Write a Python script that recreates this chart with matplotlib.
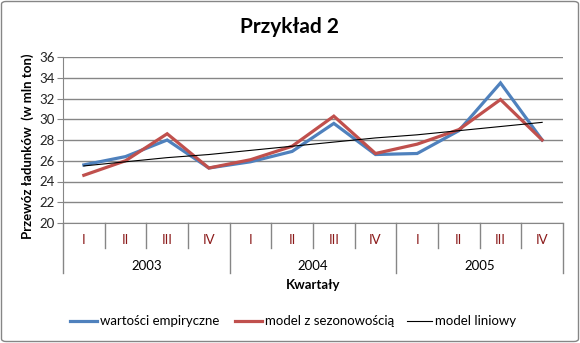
import numpy as np
import matplotlib.pyplot as plt
from matplotlib.lines import Line2D
from matplotlib.patches import FancyBboxPatch

plt.rcParams['font.family'] = ['Lato', 'DejaVu Sans']

# dane kwartalne 2003-2005
kwartaly = ['I', 'II', 'III', 'IV'] * 3
lata = ['2003', '2004', '2005']
empiryczne = [25.6, 26.4, 28.0, 25.3, 25.9, 26.9, 29.6, 26.6, 26.7, 28.9, 33.5, 28.0]
sezonowy = [24.6, 26.0, 28.6, 25.3, 26.1, 27.4, 30.3, 26.7, 27.6, 29.0, 31.9, 28.0]
liniowy = [25.5, 25.9, 26.3, 26.6, 27.0, 27.4, 27.8, 28.2, 28.5, 28.9, 29.3, 29.7]

NIEBIESKI = '#4F81BD'
CZERWONY = '#C0504D'
SZARY = '#868686'

W, H = 580, 343
fig = plt.figure(figsize=(W / 100, H / 100), dpi=100)

# ramka wykresu
fig.add_artist(FancyBboxPatch((1.5 / W, 1.5 / H), (W - 3) / W, (H - 3) / H,
                              boxstyle='round,pad=0,rounding_size=0.008',
                              transform=fig.transFigure, fill=False,
                              edgecolor=SZARY, linewidth=1.0))

ax = fig.add_axes([63 / W, (H - 223) / H, 500 / W, 166 / H])
x = np.arange(len(empiryczne))
ax.plot(x, empiryczne, color=NIEBIESKI, lw=2.3, solid_joinstyle='miter', zorder=3)
ax.plot(x, sezonowy, color=CZERWONY, lw=2.3, solid_joinstyle='miter', zorder=4)
ax.plot(x, liniowy, color='black', lw=0.8, zorder=5)

ax.set_xlim(-0.5, len(x) - 0.5)
ax.set_ylim(20, 36)
ax.set_yticks(np.arange(20, 37, 2))
ax.yaxis.grid(True, color=SZARY, lw=1.0)
ax.set_axisbelow(True)
ax.set_xticks([])
for s in ['top', 'right']:
    ax.spines[s].set_visible(False)
ax.spines['left'].set_color(SZARY)
ax.spines['bottom'].set_color(SZARY)
ax.tick_params(axis='y', length=4, color=SZARY, labelsize=9.5, pad=2, labelcolor='#222222')

# oś kategorii: kwartały i lata
tr = ax.get_xaxis_transform()
q_dol = -25 / 166
r_dol = -50 / 166
for k in range(len(x) + 1):
    dol = r_dol if k % 4 == 0 else q_dol
    ax.add_line(Line2D([k - 0.5, k - 0.5], [0, dol], transform=tr, color=SZARY,
                       lw=1.0, clip_on=False))
for i, q in enumerate(kwartaly):
    ax.text(i, -17 / 166, q, transform=tr, ha='center', va='center',
            fontsize=9.5, color='#8B1A1A')
for j, r in enumerate(lata):
    ax.text(4 * j + 1.5, -43 / 166, r, transform=tr, ha='center', va='center',
            fontsize=9.5, color='black')
ax.text(0.5, -62 / 166, 'Kwartały', transform=ax.transAxes, ha='center',
        va='center', fontsize=9.5, fontweight='bold')

ax.set_ylabel('Przewóz ładunków  (w mln ton)', fontsize=9.5, fontweight='bold')
ax.yaxis.set_label_coords(-29 / 500, 0.46)

fig.text(290 / W, 1 - 27 / H, 'Przykład 2', ha='center', va='center',
         fontsize=15, fontweight='bold')

# legenda
ly = 1 - 321 / H
for x0, x1, kol, lw, opis in [(70, 97, NIEBIESKI, 2.3, 'wartości empiryczne'),
                              (235, 262, CZERWONY, 2.3, 'model z sezonowością'),
                              (407, 432, 'black', 0.8, 'model liniowy')]:
    fig.add_artist(Line2D([x0 / W, x1 / W], [ly, ly], transform=fig.transFigure,
                          color=kol, lw=lw))
    fig.text((x1 + 3) / W, ly, opis, ha='left', va='center', fontsize=9.5)

fig.savefig('out.png', dpi=100)
